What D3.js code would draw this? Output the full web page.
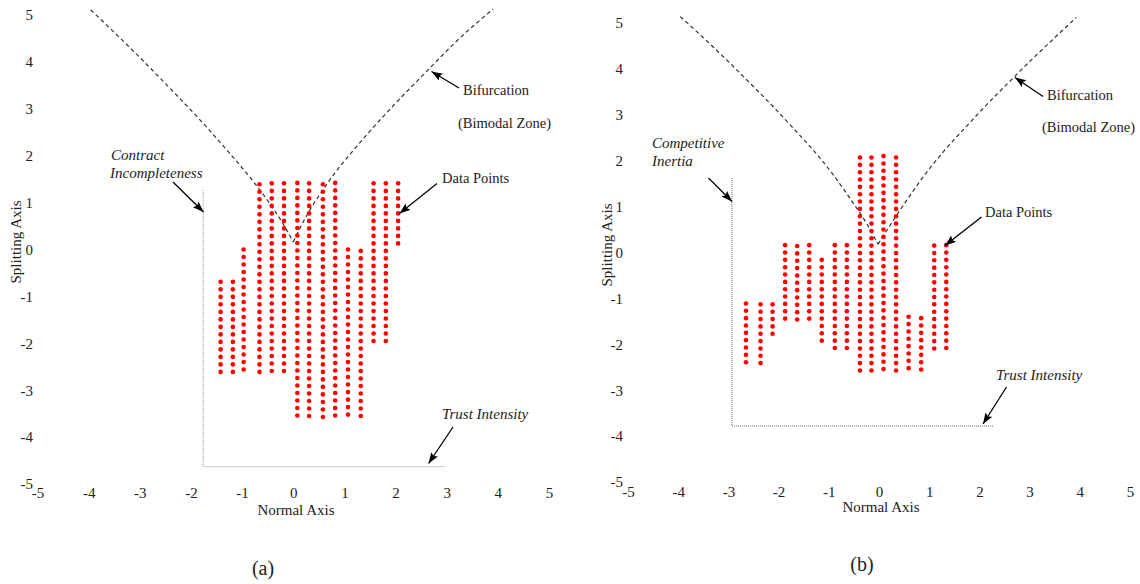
<!DOCTYPE html>
<html>
<head>
<meta charset="utf-8">
<script src="https://cdn.jsdelivr.net/npm/d3@7"></script>
<style>
  html, body { margin: 0; padding: 0; background: #fff; }
  svg { display: block; }
  text { font-family: "Liberation Serif", "Times New Roman", serif; fill: #222; }
</style>
</head>
<body>
<svg id="chart" width="1140" height="584"></svg>
<script>
// ---------------- DATA ----------------
const xTicks = [-5, -4, -3, -2, -1, 0, 1, 2, 3, 4, 5];
const yTicks = [-5, -4, -3, -2, -1, 0, 1, 2, 3, 4, 5];
const xTitle = "Normal Axis";
const yTitle = "Splitting Axis";
const dotStep = 0.16;   // vertical spacing between dots in a column (axis units)

// Panel (a): dot columns
const aColX     = [-1.42, -1.18, -0.97, -0.66, -0.42, -0.18, 0.08, 0.31, 0.58, 0.82, 1.07, 1.32, 1.57, 1.81, 2.05];
const aColTop   = [-0.69, -0.69, 0.00, 1.39, 1.41, 1.41, 1.42, 1.41, 1.39, 1.42, 0.00, -0.03, 1.41, 1.41, 1.41];
const aColCount = [13, 13, 17, 26, 26, 26, 32, 32, 32, 32, 23, 23, 22, 22, 9];

// Panel (a): bifurcation curve branches
const aLeftBranch  = [[-3.96, 5.11], [-3.51, 4.64], [-3.05, 4.15], [-2.60, 3.65], [-2.21, 3.21], [-1.82, 2.76],
                      [-1.49, 2.36], [-1.17, 1.96], [-0.84, 1.53], [-0.51, 1.06], [-0.25, 0.64], [0.00, 0.16]];
const aRightBranch = [[0.00, 0.16], [0.20, 0.60], [0.66, 1.40], [1.28, 2.25], [1.89, 2.99], [2.61, 3.80],
                      [3.20, 4.45], [3.91, 5.13]];
// Panel (a): dotted boundary (corner path)
const aBoundary = [[-1.76, 1.27], [-1.76, -4.63], [2.97, -4.63]];

// Panel (b): dot columns
const bColX     = [-2.65, -2.36, -2.12, -1.87, -1.63, -1.39, -1.14, -0.88, -0.64, -0.38, -0.15, 0.09, 0.34, 0.59, 0.84, 1.10, 1.34];
const bColTop   = [-1.11, -1.13, -1.13, 0.16, 0.14, 0.16, -0.16, 0.16, 0.16, 2.07, 2.07, 2.10, 2.07, -1.40, -1.43, 0.15, 0.16];
const bColCount = [9, 9, 5, 11, 11, 11, 12, 15, 15, 30, 30, 30, 30, 8, 8, 15, 15];

// Panel (b): bifurcation curve branches
const bLeftBranch  = [[-3.96, 5.14], [-3.50, 4.68], [-3.03, 4.19], [-2.57, 3.69], [-2.11, 3.18], [-1.71, 2.71],
                      [-1.31, 2.23], [-0.91, 1.69], [-0.51, 1.07], [-0.25, 0.64], [-0.02, 0.18]];
const bRightBranch = [[-0.02, 0.18], [0.25, 0.64], [0.51, 1.07], [0.91, 1.69], [1.31, 2.23], [1.71, 2.71],
                      [2.11, 3.18], [2.57, 3.69], [3.03, 4.19], [3.50, 4.68], [3.93, 5.12]];
// Panel (b): dotted boundary
const bBoundary = [[-2.93, 1.62], [-2.93, -3.78], [2.29, -3.78]];

// ---------------- LAYOUT ----------------
const svg = d3.select("#chart");

const defs = svg.append("defs");
defs.append("marker")
  .attr("id", "arrowhead")
  .attr("markerUnits", "userSpaceOnUse")
  .attr("markerWidth", 12).attr("markerHeight", 10)
  .attr("refX", 11).attr("refY", 4)
  .attr("orient", "auto")
  .append("path")
  .attr("d", "M0,0 L11,4 L0,8 L2,4 Z")
  .attr("fill", "#000");

const panels = [
  {
    xRange: [37.5, 549], yRange: [484, 15],
    yAxisX: 33, xAxisY: 487.5,
    xTitlePos: [296, 515], yTitlePos: [16, 242],
    colX: aColX, colTop: aColTop, colCount: aColCount,
    left: aLeftBranch, right: aRightBranch, boundary: aBoundary,
    boundaryColor: "#9a9a9a",
    label: "(a)", labelPos: [263, 575],
    texts: [
      { t: "Contract", x: 111, y: 160, italic: true },
      { t: "Incompleteness", x: 110, y: 178, italic: true },
      { t: "Bifurcation", x: 463, y: 95 },
      { t: "(Bimodal Zone)", x: 458, y: 128 },
      { t: "Data Points", x: 442, y: 183 },
      { t: "Trust Intensity", x: 442, y: 419, italic: true }
    ],
    arrows: [
      [173, 182, 203.5, 212],
      [459, 88, 431.5, 71.5],
      [437, 183.5, 399.5, 213.5],
      [453, 427, 428.5, 463.5]
    ]
  },
  {
    xRange: [628, 1130], yRange: [482, 23],
    yAxisX: 623, xAxisY: 486,
    xTitlePos: [881, 512], yTitlePos: [607, 245],
    colX: bColX, colTop: bColTop, colCount: bColCount,
    left: bLeftBranch, right: bRightBranch, boundary: bBoundary,
    boundaryColor: "#666",
    label: "(b)", labelPos: [862, 571],
    texts: [
      { t: "Competitive", x: 652, y: 148, italic: true },
      { t: "Inertia", x: 652, y: 166, italic: true },
      { t: "Bifurcation", x: 1047, y: 100 },
      { t: "(Bimodal Zone)", x: 1042, y: 132 },
      { t: "Data Points", x: 985, y: 217 },
      { t: "Trust Intensity", x: 996, y: 380, italic: true }
    ],
    arrows: [
      [708.5, 178, 732, 201.5],
      [1043, 96.5, 1015, 77.5],
      [981.5, 217, 945, 245.5],
      [1006.5, 387, 983, 424]
    ]
  }
];

panels.forEach(p => {
  const g = svg.append("g");
  const x = d3.scaleLinear().domain([-5, 5]).range(p.xRange);
  const y = d3.scaleLinear().domain([-5, 5]).range(p.yRange);

  // Axes: labels only (no lines)
  const xAxis = g.append("g")
    .attr("transform", `translate(0,${p.xAxisY})`)
    .call(d3.axisBottom(x).tickValues(xTicks).tickSize(0).tickPadding(0).tickFormat(d => String(d)));
  const yAxis = g.append("g")
    .attr("transform", `translate(${p.yAxisX},0)`)
    .call(d3.axisLeft(y).tickValues(yTicks).tickSize(0).tickPadding(0).tickFormat(d => String(d)));
  [xAxis, yAxis].forEach(ax => {
    ax.select(".domain").remove();
    ax.selectAll("text")
      .style("font-family", '"Liberation Serif", "Times New Roman", serif')
      .style("font-size", "15px")
      .attr("fill", "#222");
  });

  // Axis titles
  g.append("text")
    .attr("x", p.xTitlePos[0]).attr("y", p.xTitlePos[1])
    .attr("text-anchor", "middle")
    .style("font-size", "15px")
    .text(xTitle);
  g.append("text")
    .attr("transform", `translate(${p.yTitlePos[0]},${p.yTitlePos[1]}) rotate(-90)`)
    .attr("text-anchor", "middle")
    .attr("dy", "0.35em")
    .style("font-size", "15px")
    .text(yTitle);

  // Dotted boundary
  g.append("path")
    .attr("d", d3.line().x(d => x(d[0])).y(d => y(d[1]))(p.boundary))
    .attr("fill", "none")
    .attr("stroke", p.boundaryColor)
    .attr("stroke-width", 1)
    .attr("stroke-dasharray", "1,1");

  // Bifurcation curve (dashed)
  const curve = d3.line().x(d => x(d[0])).y(d => y(d[1])).curve(d3.curveMonotoneX);
  [p.left, p.right].forEach(br => {
    g.append("path")
      .attr("d", curve(br))
      .attr("fill", "none")
      .attr("stroke", "#333")
      .attr("stroke-width", 1.2)
      .attr("stroke-dasharray", "4,3");
  });

  // Dots
  const dots = [];
  p.colX.forEach((cx, i) => {
    for (let k = 0; k < p.colCount[i]; k++) {
      dots.push([cx, p.colTop[i] - k * dotStep]);
    }
  });
  g.append("g").selectAll("circle")
    .data(dots)
    .join("circle")
    .attr("cx", d => x(d[0]))
    .attr("cy", d => y(d[1]))
    .attr("r", 2.3)
    .attr("fill", "#ff0000");

  // Annotation texts
  p.texts.forEach(t => {
    g.append("text")
      .attr("x", t.x).attr("y", t.y)
      .style("font-size", t.italic ? "15px" : "14.5px")
      .style("font-style", t.italic ? "italic" : "normal")
      .text(t.t);
  });

  // Arrows
  p.arrows.forEach(a => {
    g.append("line")
      .attr("x1", a[0]).attr("y1", a[1])
      .attr("x2", a[2]).attr("y2", a[3])
      .attr("stroke", "#000")
      .attr("stroke-width", 1.3)
      .attr("marker-end", "url(#arrowhead)");
  });

  // Panel label
  g.append("text")
    .attr("x", p.labelPos[0]).attr("y", p.labelPos[1])
    .attr("text-anchor", "middle")
    .style("font-size", "20px")
    .text(p.label);
});
</script>
</body>
</html>
